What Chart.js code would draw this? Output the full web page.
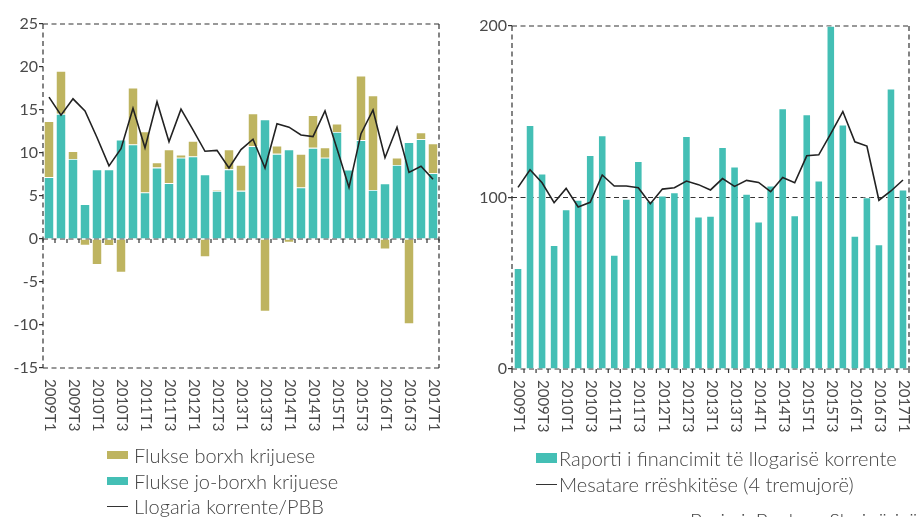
<!DOCTYPE html>
<html>
<head>
<meta charset="utf-8">
<script src="https://cdn.jsdelivr.net/npm/chart.js@4.4.0/dist/chart.umd.min.js"></script>
<style>
  body { margin: 0; width: 919px; height: 517px; overflow: hidden; background: #fff; position: relative;
         font-family: Lato, 'Open Sans', sans-serif; color: #444; }
  canvas { position: absolute; top: 0; }
  #left { left: 0; }
  #right { left: 460px; }
  .lg { position: absolute; font-size: 20px; line-height: 22px; white-space: nowrap; font-weight: 300; }
  .sw { position: absolute; }
</style>
</head>
<body>
<canvas id="left" width="460" height="450"></canvas>
<canvas id="right" width="459" height="450"></canvas>

<div class="sw" style="left:107px;top:451px;width:21px;height:8px;background:#BEB460"></div>
<div class="lg" style="left:134px;top:444px">Flukse borxh krijuese</div>
<div class="sw" style="left:107px;top:477px;width:21px;height:8px;background:#44BFB5"></div>
<div class="lg" style="left:134px;top:470px">Flukse jo-borxh krijuese</div>
<div class="sw" style="left:107px;top:506px;width:21px;height:1.2px;background:#333"></div>
<div class="lg" style="left:134px;top:495px">Llogaria korrente/PBB</div>

<div class="sw" style="left:536px;top:453px;width:21px;height:10px;background:#44BFB5"></div>
<div class="lg" style="left:559px;top:447px">Raporti i financimit të llogarisë korrente</div>
<div class="sw" style="left:536px;top:484px;width:21px;height:1.2px;background:#333"></div>
<div class="lg" style="left:559px;top:473px">Mesatare rrëshkitëse (4 tremujorë)</div>

<div class="lg" style="left:690px;top:509px">Burimi: Banka e Shqipërisë</div>

<script>
// Two panels: current account financing flows (left) and financing ratio (right).

const FONT = "Lato, 'Open Sans', sans-serif";
const INK = "#333333";
const TEAL = "#44BFB5";
const OLIVE = "#BEB460";

const quarters = [
  "2009T1", "2009T2", "2009T3", "2009T4", "2010T1", "2010T2", "2010T3", "2010T4",
  "2011T1", "2011T2", "2011T3", "2011T4", "2012T1", "2012T2", "2012T3", "2012T4",
  "2013T1", "2013T2", "2013T3", "2013T4", "2014T1", "2014T2", "2014T3", "2014T4",
  "2015T1", "2015T2", "2015T3", "2015T4", "2016T1", "2016T2", "2016T3", "2016T4",
  "2017T1",
];

// left panel, % of GDP
const debtFlows = [
  6.5, 5.0, 0.9, -0.75, -3.0, -0.8, -3.9, 6.6, 7.1, 0.6, 3.9, 0.35, 1.8, -2.1, 0.15, 2.3,
  3.0, 3.8, -8.45, 0.95, -0.4, 3.9, 3.8, 1.2, 0.95, -0.1, 7.5, 11.0, -1.2, 0.85, -9.9, 0.8,
  3.45,
];
const nonDebtFlows = [
  7.2, 14.55, 9.3, 4.05, 8.1, 8.1, 11.55, 11.0, 5.4, 8.3, 6.5, 9.45, 9.6, 7.5, 5.6, 8.1,
  5.6, 10.8, 13.9, 9.9, 10.4, 6.0, 10.6, 9.45, 12.45, 8.05, 11.5, 5.7, 6.45, 8.6, 11.25, 11.6,
  7.65,
];
const currentAccountGdp = [
  16.5, 14.4, 16.3, 14.9, 11.8, 8.5, 10.5, 15.2, 10.6, 15.95, 11.3, 15.1, 12.7, 10.2, 10.3, 8.25,
  10.4, 11.6, 8.25, 13.4, 13.0, 12.1, 11.9, 14.9, 10.5, 6.0, 12.25, 15.0, 9.45, 13.0, 7.75, 8.45,
  6.95,
];

// right panel, %
const financingRatio = [
  58.8, 142.2, 113.9, 72.2, 93.1, 98.5, 124.7, 136.2, 66.5, 99.1, 121.2, 98.0, 101.1, 103.0, 135.8, 88.8,
  89.2, 129.4, 117.9, 102.0, 85.9, 106.9, 151.9, 89.6, 148.4, 109.8, 200, 142.4, 77.6, 100.1, 72.6, 163.5,
  104.6,
];
const movingAverage = [
  105.9, 116.2, 108.6, 97.0, 105.3, 94.5, 97.2, 113.1, 106.7, 106.7, 105.7, 96.4, 104.9, 105.7, 109.6, 107.5,
  104.4, 111.0, 106.5, 110.0, 108.8, 103.4, 111.7, 108.6, 124.3, 124.9, 137.3, 150.1, 132.5, 130.0, 98.4, 103.8,
  110.2,
];

// dashed frame, dashed reference lines, tick marks on the axis line, vertical quarter labels
const framePlugin = {
  id: "frame",
  beforeDatasetsDraw(chart, args, opts) {
    const { ctx, chartArea: a, scales: { x, y } } = chart;
    const seg = (x1, y1, x2, y2) => { ctx.beginPath(); ctx.moveTo(x1, y1); ctx.lineTo(x2, y2); ctx.stroke(); };
    ctx.save();
    ctx.strokeStyle = INK;
    ctx.lineWidth = 1.2;
    ctx.setLineDash([5, 3.5]);
    seg(a.left, a.top, a.right, a.top);
    seg(a.left, a.bottom, a.right, a.bottom);
    seg(a.left, a.top, a.left, a.bottom);
    seg(a.right, a.top, a.right, a.bottom);
    opts.lines.forEach((v) => {
      const py = y.getPixelForValue(v);
      seg(a.left, py, a.right, py);
    });
    ctx.setLineDash([]);
    const base = y.getPixelForValue(opts.axisAt);
    for (let i = 0; i <= quarters.length; i++) {
      const px = x.getPixelForValue(i - 0.5);
      seg(px, base, px, base + 4);
    }
    ctx.fillStyle = "#4a4a4a";
    ctx.font = "15px " + FONT;
    ctx.textAlign = "left";
    ctx.textBaseline = "middle";
    quarters.forEach((q, i) => {
      if (i % 2) return;
      ctx.save();
      ctx.translate(x.getPixelForValue(i) + 1, a.bottom + 11);
      ctx.rotate(Math.PI / 2);
      ctx.fillText(q, 0, 0);
      ctx.restore();
    });
    ctx.restore();
  },
};

Chart.defaults.font.family = FONT;
Chart.defaults.color = "#4a4a4a";

function yAxis(min, max, step, width) {
  return {
    min, max,
    ticks: { stepSize: step, padding: 1, font: { size: 16 }, color: "#4a4a4a" },
    grid: { drawOnChartArea: false, tickLength: 4, color: INK, lineWidth: 1.2 },
    border: { display: false },
    afterFit: (s) => { s.width = width; },
  };
}

const xAxis = { type: "category", offset: true, display: false, stacked: true };

new Chart(document.getElementById("left"), {
  type: "bar",
  data: {
    labels: quarters,
    datasets: [
      { type: "line", label: "Llogaria korrente/PBB", data: currentAccountGdp, stack: "line",
        borderColor: "#222", borderWidth: 1.6, pointRadius: 0, tension: 0, order: 0 },
      { label: "Flukse jo-borxh krijuese", data: nonDebtFlows, backgroundColor: TEAL,
        borderColor: "rgba(255,255,255,0.5)", borderWidth: 0.8, order: 1 },
      { label: "Flukse borxh krijuese", data: debtFlows, backgroundColor: OLIVE,
        borderColor: "rgba(255,255,255,0.5)", borderWidth: 0.8, order: 1 },
    ],
  },
  options: {
    responsive: false,
    animation: false,
    datasets: { bar: { categoryPercentage: 1, barPercentage: 0.84 } },
    layout: { padding: { top: 24, right: 21, bottom: 82, left: 0 } },
    plugins: { legend: { display: false }, tooltip: { enabled: false },
      frame: { lines: [0], axisAt: 0 } },
    scales: { x: xAxis, y: { ...yAxis(-15, 25, 5, 43), stacked: true } },
  },
  plugins: [framePlugin],
});

new Chart(document.getElementById("right"), {
  type: "bar",
  data: {
    labels: quarters,
    datasets: [
      { type: "line", label: "Mesatare rrëshkitëse (4 tremujorë)", data: movingAverage,
        borderColor: "#222", borderWidth: 1.6, pointRadius: 0, tension: 0, order: 0 },
      { label: "Raporti i financimit të llogarisë korrente", data: financingRatio, backgroundColor: TEAL,
        borderColor: "rgba(255,255,255,0.5)", borderWidth: 0.8, order: 1 },
    ],
  },
  options: {
    responsive: false,
    animation: false,
    datasets: { bar: { categoryPercentage: 1, barPercentage: 0.68 } },
    layout: { padding: { top: 26, right: 10, bottom: 81, left: 0 } },
    plugins: { legend: { display: false }, tooltip: { enabled: false },
      frame: { lines: [100], axisAt: 0 } },
    scales: { x: { ...xAxis, stacked: false }, y: yAxis(0, 200, 100, 52) },
  },
  plugins: [framePlugin],
});
</script>
</body>
</html>
